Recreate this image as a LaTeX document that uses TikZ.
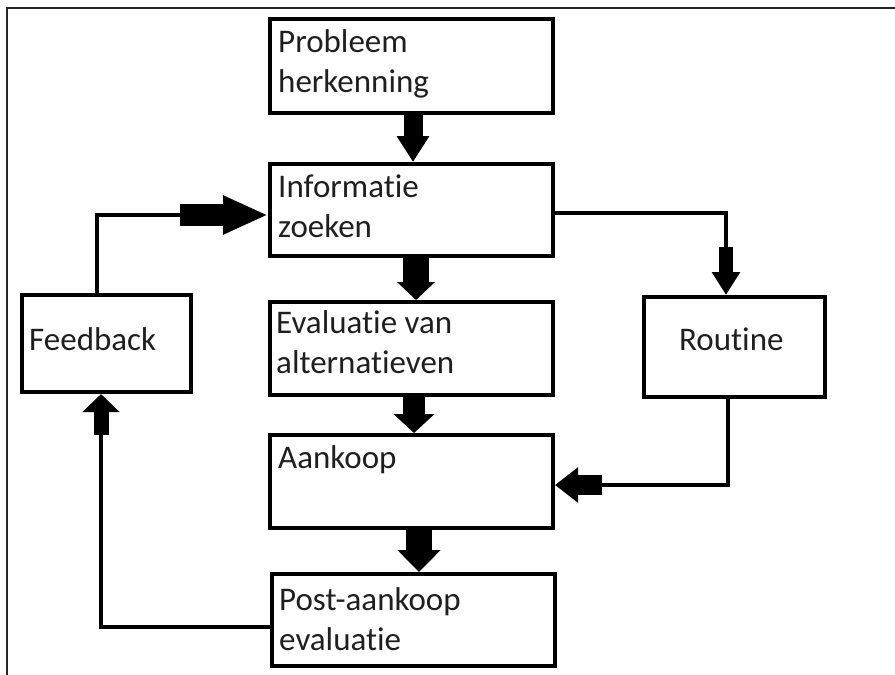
\documentclass[tikz,border=0pt]{standalone}
\usepackage{fontspec}
\setmainfont{Carlito}[Ligatures=NoCommon]
\usetikzlibrary{arrows.meta,calc}
\begin{document}
\begin{tikzpicture}[x=1pt,y=-1pt,
  box/.style={draw=black, line width=4pt, inner sep=0pt},
  txt/.style={anchor=base west, inner sep=0pt, align=left, text=black!88,
    font=\fontsize{33}{40}\selectfont},
  thin/.style={draw=black, line width=4pt},
  blockarrow/.style n args={3}{draw=black, line width=#1,
    -{Triangle[width=#2, length=#3]}}
]
\useasboundingbox (0,0) rectangle (895,675);
\draw[line width=1.2pt, black!85] (7,675) -- (7,8) -- (895,8);

% boxes
\node[box, minimum width=283pt, minimum height=94pt] (prob) at (411.5,66) {};
\node[box, minimum width=283pt, minimum height=92pt] (info) at (411.5,210) {};
\node[box, minimum width=283pt, minimum height=93pt] (eval) at (411.5,348.5) {};
\node[box, minimum width=283pt, minimum height=93pt] (aank) at (411.5,481.5) {};
\node[box, minimum width=283pt, minimum height=92pt] (post) at (413.5,620) {};
\node[box, minimum width=169pt, minimum height=97pt] (feed) at (106.5,343.5) {};
\node[box, minimum width=181pt, minimum height=100pt] (rout) at (734.5,347) {};

% texts (anchor = baseline of last line)
\node[txt] (tprob) at (278,92) {Probleem\\herkenning};
\node[txt] (tinfo) at (278,237) {Informatie\\zoeken};
\node[txt] (teval) at (276,373) {Evaluatie van\\alternatieven};
\node[txt] (taank) at (278,468) {Aankoop};
\node[txt] (tpost) at (279,650) {Post-aankoop\\evaluatie};
\node[txt] (tfeed) at (29,350) {Feedback};
\node[txt] (trout) at (679,350) {Routine};

% straight block arrows
\draw[blockarrow={19pt}{31pt}{26pt}] (prob.south -| 413,0) -- (info.north -| 413,0);
\draw[blockarrow={26pt}{37pt}{18pt}] (info.south -| 416,0) -- (eval.north -| 416,0);
\draw[blockarrow={22pt}{40pt}{19pt}] (eval.south -| 414,0) -- (aank.north -| 414,0);
\draw[blockarrow={26pt}{42pt}{22pt}] (aank.south -| 419,0) -- (post.north -| 419,0);

% feedback -> informatie
\coordinate (c1) at (180,215);
\draw[thin] (feed.north -| 97,0) |- (c1);
\draw[blockarrow={22pt}{36pt}{45pt}] (c1) -- (info.west |- c1);

% informatie -> routine
\coordinate (c2) at (726,247);
\draw[thin] (info.east |- 0,213) -| (c2);
\draw[blockarrow={14pt}{27pt}{23pt}] (c2) -- (rout.north -| c2);

% routine -> aankoop
\coordinate (c3) at (602,485);
\draw[thin] (rout.south -| 728,0) |- (c3);
\draw[blockarrow={20pt}{34pt}{23pt}] (c3) -- (aank.east |- c3);

% post-aankoop -> feedback
\coordinate (c4) at (101,435);
\draw[thin] (post.west |- 0,627) -| (c4);
\draw[blockarrow={15pt}{36pt}{18pt}] (c4) -- (feed.south -| c4);
\end{tikzpicture}
\end{document}
